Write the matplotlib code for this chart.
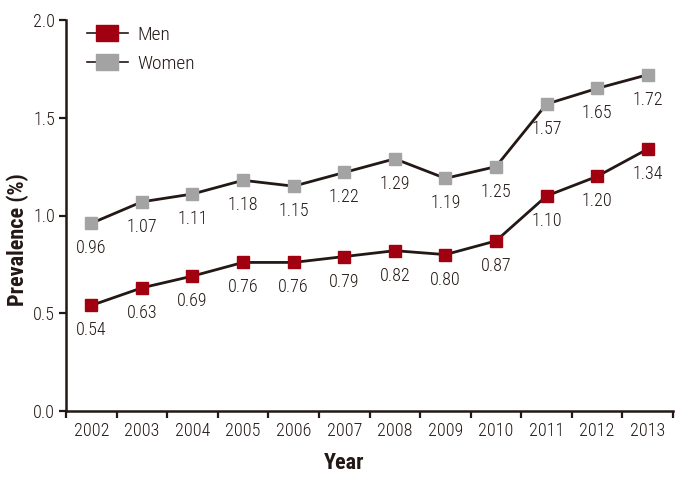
import matplotlib
matplotlib.use("Agg")
import matplotlib.pyplot as plt
from matplotlib.lines import Line2D
import numpy as np

years = ["2002", "2003", "2004", "2005", "2006", "2007", "2008", "2009", "2010", "2011", "2012", "2013"]
men = [0.54, 0.63, 0.69, 0.76, 0.76, 0.79, 0.82, 0.80, 0.87, 1.10, 1.20, 1.34]
women = [0.96, 1.07, 1.11, 1.18, 1.15, 1.22, 1.29, 1.19, 1.25, 1.57, 1.65, 1.72]
yticks = [0.0, 0.5, 1.0, 1.5, 2.0]

plt.rcParams['font.family'] = ['Roboto Condensed', 'Liberation Sans Narrow', 'DejaVu Sans']
plt.rcParams['font.stretch'] = 'condensed'
plt.rcParams['font.weight'] = 'light'

W, H = 688, 480
fig = plt.figure(figsize=(W/100, H/100), dpi=100)
ax = fig.add_axes([66/W, 1-411/H, (673-66)/W, (411-20)/H])

x = np.arange(len(years))
line_col = '#231815'
men_col = '#a00010'
women_col = '#a3a3a3'
ax.plot(x, men, color=line_col, lw=2.0, marker='s', ms=8, mfc=men_col, mec=men_col, zorder=3)
ax.plot(x, women, color=line_col, lw=2.0, marker='s', ms=8, mfc=women_col, mec=women_col, zorder=3)

for series in (men, women):
    for xi, v in zip(x, series):
        ax.annotate(f"{v:.2f}", (xi, v), xytext=(0, -11.5), textcoords='offset points',
                    ha='center', va='top', fontsize=13, color=line_col)

ax.set_xlim(-0.5, len(years) - 0.5)
ax.set_ylim(0, 2.0)
ax.set_yticks(yticks)
ax.set_yticklabels([f"{t:.1f}" for t in yticks], fontsize=13, color=line_col)
ax.set_xticks(np.arange(len(years) + 1) - 0.5)
ax.set_xticklabels([])
ax.set_xticks(x, minor=True)
ax.set_xticklabels(years, minor=True, fontsize=13, color=line_col)
ax.tick_params(axis='x', which='minor', length=0, pad=8)
ax.tick_params(axis='both', which='major', direction='out', length=5, width=1.6, color=line_col)
ax.tick_params(axis='y', which='major', pad=3)

for s in ['top', 'right']:
    ax.spines[s].set_visible(False)
for s in ['left', 'bottom']:
    ax.spines[s].set_linewidth(1.8)
    ax.spines[s].set_color(line_col)

ax.set_ylabel("Prevalence (%)", fontsize=16, fontweight='bold', color=line_col)
ax.yaxis.set_label_coords(29/W, 0.5, transform=fig.transFigure)
ax.set_xlabel("Year", fontsize=16, fontweight='bold', color=line_col)
ax.xaxis.set_label_coords(0.5, 1-452/H, transform=fig.transFigure)

rect = [(-1.44, -1), (1.44, -1), (1.44, 1), (-1.44, 1), (-1.44, -1)]
handles = [
    Line2D([], [], color=line_col, lw=1.2, marker=rect, ms=16.5, mfc=men_col, mec=men_col),
    Line2D([], [], color=line_col, lw=1.2, marker=rect, ms=16.5, mfc=women_col, mec=women_col),
]
leg = fig.legend(handles, ["Men", "Women"], loc='upper left',
                 bbox_to_anchor=(87/W, 1-26/H), bbox_transform=fig.transFigure,
                 frameon=False, fontsize=14, borderpad=0, borderaxespad=0,
                 handlelength=2.1, handletextpad=0.5, labelspacing=0.55)
for t in leg.get_texts():
    t.set_color(line_col)

fig.savefig("out.png", dpi=100)
